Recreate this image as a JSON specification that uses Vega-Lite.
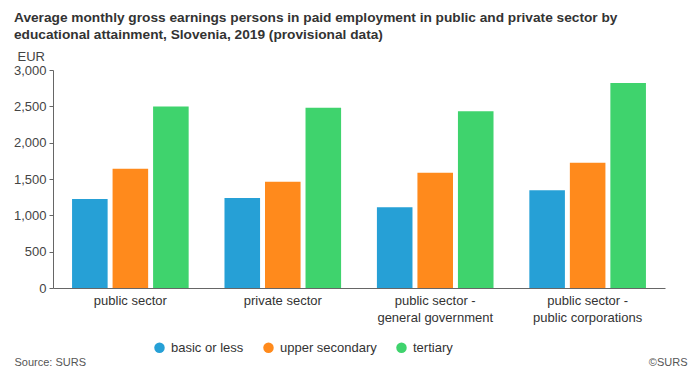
{
  "$schema": "https://vega.github.io/schema/vega-lite/v6.json",
  "width": 612,
  "height": 218,
  "autosize": {"type": "none"},
  "padding": {"left": 53, "top": 70, "right": 25, "bottom": 89},
  "background": "white",
  "config": {
    "font": "Liberation Sans",
    "view": {"stroke": null}
  },
  "title": {
    "text": ["Average monthly gross earnings persons in paid employment in public and private sector by", "educational attainment, Slovenia, 2019 (provisional data)"],
    "anchor": "start",
    "frame": "group",
    "fontSize": 13.7,
    "fontWeight": "bold",
    "color": "#333333",
    "lineHeight": 17,
    "dx": -39,
    "offset": 8
  },
  "data": {
    "values": [
      {"sector": "public sector", "education": "basic or less", "value": 1226},
      {"sector": "public sector", "education": "upper secondary", "value": 1641},
      {"sector": "public sector", "education": "tertiary", "value": 2498},
      {"sector": "private sector", "education": "basic or less", "value": 1240},
      {"sector": "private sector", "education": "upper secondary", "value": 1461},
      {"sector": "private sector", "education": "tertiary", "value": 2479},
      {"sector": "public sector - general government", "education": "basic or less", "value": 1110},
      {"sector": "public sector - general government", "education": "upper secondary", "value": 1586},
      {"sector": "public sector - general government", "education": "tertiary", "value": 2433},
      {"sector": "public sector - public corporations", "education": "basic or less", "value": 1345},
      {"sector": "public sector - public corporations", "education": "upper secondary", "value": 1724},
      {"sector": "public sector - public corporations", "education": "tertiary", "value": 2820}
    ]
  },
  "layer": [
    {
      "mark": {"type": "bar"},
      "encoding": {
        "x": {
          "field": "sector",
          "type": "nominal",
          "sort": null,
          "scale": {"paddingInner": 0.235, "paddingOuter": 0.125},
          "axis": {
            "labelAngle": 0,
            "labelFontSize": 13,
            "labelColor": "#333333",
            "labelPadding": 6,
            "labelLineHeight": 17,
            "labelExpr": "indexof(datum.label, ' - ') > 0 ? [slice(datum.label, 0, indexof(datum.label, ' - ') + 2), slice(datum.label, indexof(datum.label, ' - ') + 3)] : datum.label",
            "ticks": false,
            "domainColor": "#666666",
            "title": "Source: SURS",
            "titleFontSize": 11,
            "titleFontWeight": "normal",
            "titleColor": "#555555",
            "titleX": -39,
            "titleY": 74,
            "titleAlign": "left",
            "titleBaseline": "middle"
          }
        },
        "xOffset": {
          "field": "education",
          "type": "nominal",
          "sort": ["basic or less", "upper secondary", "tertiary"],
          "scale": {"paddingInner": 0.122}
        },
        "y": {
          "field": "value",
          "type": "quantitative",
          "scale": {"domain": [0, 3000]},
          "axis": {
            "values": [0, 500, 1000, 1500, 2000, 2500, 3000],
            "grid": false,
            "format": ",d",
            "labelFontSize": 13,
            "labelColor": "#444444",
            "tickColor": "#666666",
            "tickSize": 4,
            "labelPadding": 3,
            "domainColor": "#666666",
            "title": "EUR",
            "titleAngle": 0,
            "titleFontSize": 13,
            "titleFontWeight": "normal",
            "titleColor": "#444444",
            "titleX": -36,
            "titleY": -14,
            "titleAlign": "left",
            "titleBaseline": "middle"
          }
        },
        "color": {
          "field": "education",
          "type": "nominal",
          "sort": ["basic or less", "upper secondary", "tertiary"],
          "scale": {"domain": ["basic or less", "upper secondary", "tertiary"], "range": ["#26A0D6", "#FF8A1C", "#3FD36D"]},
          "legend": {
            "title": null,
            "orient": "none",
            "direction": "horizontal",
            "legendX": 100,
            "legendY": 271,
            "symbolType": "circle",
            "symbolSize": 110,
            "labelFontSize": 13,
            "labelColor": "#333333",
            "labelOffset": 5,
            "columnPadding": 18
          }
        }
      }
    },
    {
      "mark": {"type": "bar", "opacity": 0},
      "encoding": {
        "x": {"field": "sector", "type": "nominal", "sort": null},
        "xOffset": {"field": "education", "type": "nominal", "sort": ["basic or less", "upper secondary", "tertiary"]},
        "y": {
          "field": "value",
          "type": "quantitative",
          "axis": {
            "orient": "right",
            "labels": false,
            "ticks": false,
            "domain": false,
            "grid": false,
            "title": "©SURS",
            "titleAngle": 0,
            "titleFontSize": 11,
            "titleFontWeight": "normal",
            "titleColor": "#555555",
            "titleX": 22,
            "titleY": 292,
            "titleAlign": "right",
            "titleBaseline": "middle"
          }
        }
      }
    }
  ],
  "resolve": {"axis": {"y": "independent"}}
}
